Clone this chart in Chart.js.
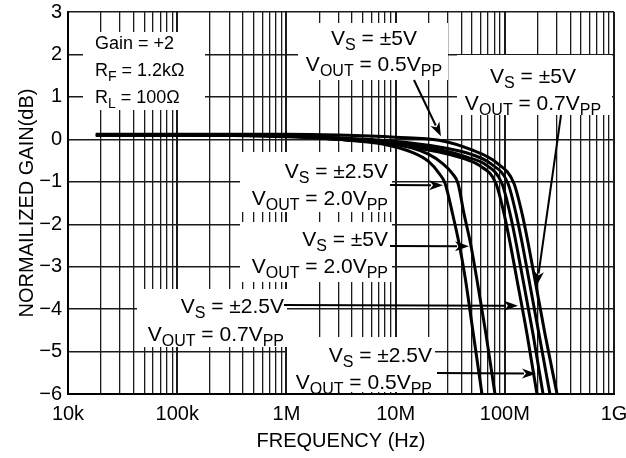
<!DOCTYPE html>
<html>
<head>
<meta charset="utf-8">
<script src="https://cdn.jsdelivr.net/npm/chart.js@4.4.0/dist/chart.umd.min.js"></script>
<style>
  html, body { margin: 0; padding: 0; background: #fff; }
  #wrap { width: 626px; height: 458px; }
</style>
</head>
<body>
<div id="wrap"><canvas id="chart" width="626" height="458"></canvas></div>
<script>
// ── Axis ticks ──
const decadeLabels = ['10k', '100k', '1M', '10M', '100M', '1G'];
const yTicks       = [3, 2, 1, 0, -1, -2, -3, -4, -5, -6];
const yTickLabels  = ['3', '2', '1', '0', '−1', '−2', '−3', '−4', '−5', '−6'];

// ── Series (frequency in Hz, normalized gain in dB) ──
// VS = ±2.5V, VOUT = 2.0VPP
const fA = [18e3, 1e5, 1e6, 3e6, 8e6, 14e6, 20e6, 25e6, 28.4e6, 33.2e6, 38.1e6, 43.3e6, 51.6e6, 61.8e6];
const gA = [0.1, 0.1, 0.08, 0.0, -0.12, -0.3, -0.52, -0.8, -1.04, -1.75, -2.45, -3.25, -4.6, -6.0];
// VS = ±5V, VOUT = 2.0VPP
const fB = [18e3, 1e5, 1e6, 3e6, 8e6, 14e6, 20e6, 27e6, 33e6, 37.3e6, 42.3e6, 48.5e6, 55.1e6, 67.3e6, 81.3e6];
const gB = [0.1, 0.1, 0.08, 0.0, -0.08, -0.2, -0.35, -0.57, -0.8, -1.04, -1.75, -2.45, -3.25, -4.6, -6.0];
// VS = ±2.5V, VOUT = 0.7VPP
const fC = [18e3, 1e5, 1e6, 3e6, 10e6, 25e6, 45e6, 59e6, 83e6, 98.4e6, 112e6, 128e6, 160e6, 197e6];
const gC = [0.1, 0.1, 0.06, 0.0, -0.12, -0.3, -0.48, -0.62, -1.04, -1.75, -2.45, -3.25, -4.6, -6.0];
// VS = ±2.5V, VOUT = 0.5VPP
const fD = [18e3, 1e5, 1e6, 3e6, 10e6, 25e6, 45e6, 67e6, 94.2e6, 111.7e6, 127.1e6, 145.3e6, 181.6e6, 224e6];
const gD = [0.1, 0.1, 0.07, 0.02, -0.08, -0.24, -0.42, -0.6, -1.04, -1.75, -2.45, -3.25, -4.6, -6.0];
// VS = ±5V, VOUT = 0.7VPP
const fE = [18e3, 1e5, 1e6, 3e6, 10e6, 25e6, 50e6, 75e6, 107e6, 126.7e6, 144.3e6, 164.9e6, 206e6, 259e6];
const gE = [0.1, 0.1, 0.08, 0.04, -0.05, -0.18, -0.36, -0.58, -1.04, -1.75, -2.45, -3.25, -4.6, -6.0];
// VS = ±5V, VOUT = 0.5VPP
const fF = [18e3, 1e5, 1e6, 3e6, 10e6, 25e6, 50e6, 85e6, 121.3e6, 143.9e6, 163.7e6, 187.1e6, 233.9e6, 301e6];
const gF = [0.12, 0.12, 0.12, 0.1, 0.05, -0.02, -0.25, -0.56, -1.04, -1.75, -2.45, -3.25, -4.6, -6.0];

const series = [[fA, gA], [fB, gB], [fC, gC], [fD, gD], [fE, gE], [fF, gF]];

// ── Annotations: text boxes (pixels) and arrows (tail in pixels, tip in data units) ──
const notes = [
  { box: [83, 32, 205, 110], align: 'left', x: 95, size: 18, lines: [
    { y: 43, parts: [['Gain = +2', 0]] },
    { y: 70, parts: [['R', 0], ['F', 1], [' = 1.2kΩ', 0]] },
    { y: 97, parts: [['R', 0], ['L', 1], [' = 100Ω', 0]] } ] },
  { box: [298, 23, 448, 80], align: 'center', x: 374, size: 21, lines: [
    { y: 37, parts: [['V', 0], ['S', 1], [' = ±5V', 0]] },
    { y: 63, parts: [['V', 0], ['OUT', 1], [' = 0.5V', 0], ['PP', 1]] } ] },
  { box: [457, 55, 612, 115], align: 'center', x: 533, size: 21, lines: [
    { y: 75, parts: [['V', 0], ['S', 1], [' = ±5V', 0]] },
    { y: 102, parts: [['V', 0], ['OUT', 1], [' = 0.7V', 0], ['PP', 1]] } ] },
  { box: [240, 152, 392, 212], align: 'right', x: 388, size: 21, lines: [
    { y: 170, parts: [['V', 0], ['S', 1], [' = ±2.5V', 0]] },
    { y: 197, parts: [['V', 0], ['OUT', 1], [' = 2.0V', 0], ['PP', 1]] } ] },
  { box: [240, 222, 392, 282], align: 'right', x: 388, size: 21, lines: [
    { y: 238, parts: [['V', 0], ['S', 1], [' = ±5V', 0]] },
    { y: 265, parts: [['V', 0], ['OUT', 1], [' = 2.0V', 0], ['PP', 1]] } ] },
  { box: [137, 289, 287, 347], align: 'right', x: 284, size: 21, lines: [
    { y: 305, parts: [['V', 0], ['S', 1], [' = ±2.5V', 0]] },
    { y: 333, parts: [['V', 0], ['OUT', 1], [' = 0.7V', 0], ['PP', 1]] } ] },
  { box: [287, 337, 435, 392], align: 'right', x: 432, size: 21, lines: [
    { y: 354, parts: [['V', 0], ['S', 1], [' = ±2.5V', 0]] },
    { y: 381, parts: [['V', 0], ['OUT', 1], [' = 0.5V', 0], ['PP', 1]] } ] },
];

const arrows = [
  { from: [414, 80],  to: [26e6, 0.07] },
  { from: [561, 115], to: [197e6, -3.44] },
  { from: [390, 185], to: [27.2e6, -1.08] },
  { from: [390, 246], to: [47e6, -2.52] },
  { from: [284, 305], to: [132e6, -3.92] },
  { from: [437, 373], to: [193e6, -5.52] },
];

const FONT = '"Liberation Sans", Arial, Helvetica, sans-serif';

function drawTextLine(ctx, parts, x, y, align, size) {
  const sub = Math.round(size * 0.76);
  let w = 0;
  parts.forEach(([t, s]) => { ctx.font = `${s ? sub : size}px ${FONT}`; w += ctx.measureText(t).width; });
  let cx = align === 'left' ? x : align === 'right' ? x - w : x - w / 2;
  const base = y + size * 0.36;
  parts.forEach(([t, s]) => {
    ctx.font = `${s ? sub : size}px ${FONT}`;
    ctx.fillText(t, cx, base + (s ? size * 0.24 : 0));
    cx += ctx.measureText(t).width;
  });
}

function drawArrow(ctx, x0, y0, x1, y1) {
  const a = Math.atan2(y1 - y0, x1 - x0), L = 14, W = 5;
  const bx = x1 - L * Math.cos(a), by = y1 - L * Math.sin(a);
  ctx.beginPath();
  ctx.moveTo(x0, y0);
  ctx.lineTo(bx + 2 * Math.cos(a), by + 2 * Math.sin(a));
  ctx.lineWidth = 2;
  ctx.stroke();
  ctx.beginPath();
  ctx.moveTo(x1, y1);
  ctx.lineTo(bx + W * Math.sin(a), by - W * Math.cos(a));
  ctx.lineTo(bx + 4 * Math.cos(a), by + 4 * Math.sin(a));
  ctx.lineTo(bx - W * Math.sin(a), by + W * Math.cos(a));
  ctx.closePath();
  ctx.fill();
}

const notesPlugin = {
  id: 'notes',
  beforeDatasetsDraw(chart) {
    const ctx = chart.ctx;
    ctx.save();
    ctx.fillStyle = '#fff';
    notes.forEach(n => {
      const [x0, y0, x1, y1] = n.box;
      ctx.fillRect(x0, y0, x1 - x0, y1 - y0);
    });
    ctx.fillStyle = '#000';
    ctx.textAlign = 'left';
    ctx.textBaseline = 'alphabetic';
    notes.forEach(n => n.lines.forEach(l => drawTextLine(ctx, l.parts, n.x, l.y, n.align, n.size)));
    ctx.restore();
  },
  afterDatasetsDraw(chart) {
    const ctx = chart.ctx, xs = chart.scales.x, ys = chart.scales.y;
    ctx.save();
    ctx.strokeStyle = '#000';
    ctx.fillStyle = '#000';
    arrows.forEach(({ from, to }) => {
      drawArrow(ctx, from[0], from[1], xs.getPixelForValue(to[0]), ys.getPixelForValue(to[1]));
    });
    ctx.restore();
  },
};

const isDecade = v => Math.abs(Math.log10(v) - Math.round(Math.log10(v))) < 1e-6;

new Chart(document.getElementById('chart'), {
  type: 'line',
  data: {
    datasets: series.map(([f, g]) => ({
      data: f.map((x, i) => ({ x, y: g[i] })),
      borderColor: '#000',
      borderWidth: 3,
      pointRadius: 0,
      fill: false,
      cubicInterpolationMode: 'monotone',
    })),
  },
  options: {
    responsive: false,
    animation: false,
    devicePixelRatio: 1,
    layout: { padding: { left: 0, right: 12, top: 12, bottom: 0 } },
    plugins: { legend: { display: false }, tooltip: { enabled: false } },
    scales: {
      x: {
        type: 'logarithmic',
        min: 1e4,
        max: 1e9,
        afterBuildTicks: scale => {
          const t = [];
          for (let e = 4; e < 9; e++) for (let m = 1; m < 10; m++) t.push({ value: m * Math.pow(10, e) });
          t.push({ value: 1e9 });
          scale.ticks = t;
        },
        afterFit: scale => {
          scale.height = 64;
          scale.paddingLeft = 0;
          scale.paddingRight = 0;
        },
        ticks: {
          autoSkip: false,
          maxRotation: 0,
          padding: 8,
          color: '#000',
          font: { family: FONT, size: 20 },
          callback: v => isDecade(v) ? decadeLabels[Math.round(Math.log10(v)) - 4] : '',
        },
        grid: {
          color: '#1a1a1a',
          drawTicks: false,
          lineWidth: c => (c.tick && isDecade(c.tick.value)) ? 2 : 1.3,
        },
        border: { display: true, color: '#000', width: 2 },
        title: {
          display: true,
          text: 'FREQUENCY (Hz)',
          color: '#000',
          font: { family: FONT, size: 20 },
          padding: { top: 0, bottom: 5 },
        },
      },
      y: {
        min: -6,
        max: 3,
        afterBuildTicks: scale => { scale.ticks = yTicks.map(v => ({ value: v })); },
        afterFit: scale => {
          scale.width = 68;
          scale.paddingTop = 0;
          scale.paddingBottom = 0;
        },
        ticks: {
          padding: 6,
          color: '#000',
          font: { family: FONT, size: 20 },
          callback: (v, i) => yTickLabels[i],
        },
        grid: { color: '#1a1a1a', drawTicks: false, lineWidth: 1.4 },
        border: { display: true, color: '#000', width: 2 },
        title: {
          display: true,
          text: 'NORMAILIZED GAIN(dB)',
          color: '#000',
          font: { family: FONT, size: 20 },
          padding: { top: 15, bottom: 0 },
        },
      },
    },
  },
  plugins: [notesPlugin],
});
</script>
</body>
</html>
